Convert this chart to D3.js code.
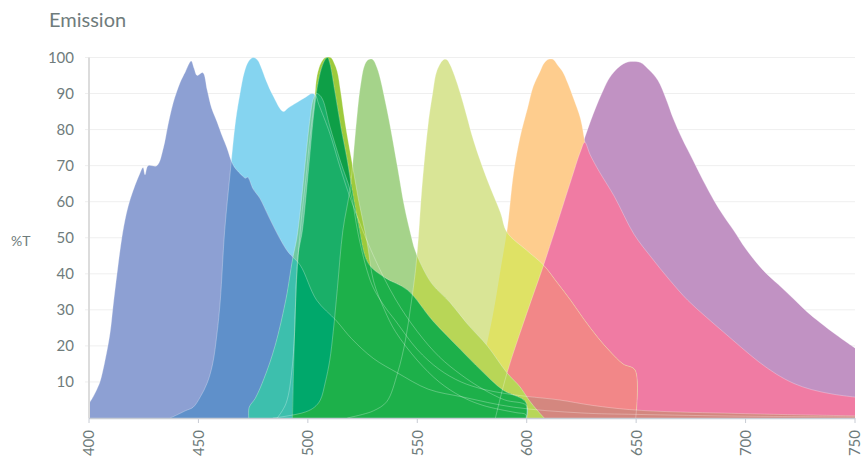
<!DOCTYPE html>
<html>
<head>
<meta charset="utf-8">
<script src="https://cdn.jsdelivr.net/npm/d3@7"></script>
<style>
  body { margin: 0; background: #fff; }
  text { font-family: Lato, "Open Sans", sans-serif; }
</style>
</head>
<body>
<svg id="chart" width="863" height="457"></svg>
<script>
// emission spectra: [wavelength nm, %T]
const violetEm = [[400,4],[402,6],[404,8.5],[405,10],[407,15],[409.6,23.5],[411,31],[413,41],[415,50],[417,56.5],[419,61],[421,64.5],[423,67.5],[424.7,69.5],[425.6,67.5],[427,70],[431,70],[434,75],[436,81],[438.5,87.5],[441.6,93],[444,96],[446.7,99],[448,97],[449.4,95],[452,95.8],[454,91],[456,86],[458.6,82],[461,78],[463,75],[466,70],[470.4,67],[471.5,66.5],[472.5,66.8],[475,63.5],[478,61],[482,56],[487,50],[491,46],[496.5,42.4],[504,32.7],[513,27],[520,22],[530,16.5],[541,12.5],[555,8],[571,5.8],[594,3],[625,1.4],[650,1],[700,0.5],[750,0.3]];
const skyEm = [[437,0],[440,0.8],[444,2],[447.6,3],[451,6],[454,9.7],[456.5,15],[458.5,23.5],[460,32.7],[462,52],[464.5,68],[467,82.5],[469,90],[471,96],[473,99],[475,100],[477,99.3],[478.5,97.5],[481,93.5],[484,89.5],[488.7,85],[491,86],[495,87.5],[499,89],[502,90],[503.5,89.5],[505,87],[510,79],[515,69],[520,60],[530,45],[540,33],[550,24],[560,17],[570,12],[580,8],[590,5],[599.8,3.5],[600,0]];
const tealEm = [[473,0],[473.2,3],[476,5.5],[480,11],[485,20],[490,33],[493,44],[495,50],[497,60],[499,72],[501,83],[502.5,88.5],[504,90],[505.5,89.5],[507,88],[510,81],[515,71],[519.4,63],[523,51],[527,41],[530,36],[535,31],[540,27],[550,19],[560,13.5],[570,10],[580,8],[590,6.8],[600,6],[615,5],[630,3.5],[650,2.2],[700,1.2],[750,0.6]];
const greenEm = [[493,0],[494,25],[495.5,45],[497.5,52],[500,67],[503,86],[505,94],[506.5,97.5],[508,99.5],[509,100],[510,98.5],[512.5,90],[515,81],[518,71.5],[520,64],[523,54],[527.5,43],[535,39],[545.5,35.5],[557,27],[569.7,19],[579,13.3],[589,7.8],[599.5,4.4],[599.8,0]];
const limeEm = [[486,0],[490,4],[493,15],[495,40],[497,55],[499,66],[501,78],[503,88],[504.2,95],[506,98.5],[508,100],[510.5,100],[512,98.5],[513.5,96],[515,90.5],[517,82],[520,71.5],[523,61],[527,49],[530,38],[535,30],[540,24],[550,16],[560,10],[570,6],[580,3.5],[595,1.5],[599.5,1],[599.8,0]];
const leafEm = [[484,0],[490,0.5],[499,1.7],[503,3],[505.7,5],[508,10],[510,16],[511.6,24],[513.5,36],[516,52],[519.4,64],[521.7,79],[524,92],[526,98],[527.6,99.4],[529.5,99.5],[531.7,97],[536,86],[541,69.5],[544,59],[547,51],[549,46.5],[553,41],[557,37],[565,32],[573,26],[582,20],[591,12.5],[597,8.6],[601,5],[605,2],[608,0]];
const paleEm = [[518,0],[525,1],[530,2],[536,4.5],[541,12.5],[544.6,21.6],[547,31],[549,40],[550.5,50],[552,63],[555,81.7],[557,90],[559,96.4],[562,99.4],[563.5,99.4],[565,98],[567,95],[569.7,90],[572.5,84],[575.7,77],[582,66],[588,57],[591,51.5],[600,46.5],[607.7,42.4],[614,37.5],[620,32.7],[626,27.5],[632.4,22.4],[638,18.5],[644,15],[649.5,13.3],[649.8,0]];
const orangeEm = [[562,0],[567,1],[572,4],[576,9],[579,13.3],[582,21],[585,30],[588,41],[591,52],[594,68],[597,78],[600.4,86],[603,92],[606,96],[608,98.5],[610,99.5],[612,99.5],[614,98],[616.5,96],[618.7,93],[621.5,88.5],[624.6,83],[627,75],[630,66],[635,52],[640,40],[650,25],[660,15],[670,9],[680,5.5],[700,2.5],[720,1.5],[750,1]];
const pinkEm = [[585.7,0],[591,12.5],[600,29],[607.7,42.4],[615,56],[620,65.5],[624.6,74],[626.5,76.5],[629,73],[633,68.5],[640,61.5],[649,51],[657,44.5],[665,38.5],[673.5,32.7],[682,28],[690,23.8],[698,19.6],[706,15.6],[714,12.2],[722,9.6],[730,7.9],[740,6.6],[750,5.8]];
const purpleEm = [[560,0.5],[570,2],[580,6],[590,14],[600,27],[610,45],[615,56],[620,66],[625.5,76],[630.5,84.5],[635,91],[638,94.5],[641.5,97],[645,98.5],[648.4,98.9],[652,98.6],[656,96.5],[660,93.6],[663.5,88.8],[667,83],[671,77.5],[676,71.5],[680.5,66],[685.5,60.4],[690,56],[694.6,52],[700,47],[708,41],[715,37],[722,33],[728,29.5],[734,26.5],[742,22.8],[750,19.4]];

const xTicks = [400, 450, 500, 550, 600, 650, 700, 750];
const yTicks = [10, 20, 30, 40, 50, 60, 70, 80, 90, 100];

const spectra = {
  violet: violetEm, sky: skyEm, teal: tealEm, green: greenEm, lime: limeEm,
  leaf: leafEm, pale: paleEm, orange: orangeEm, pink: pinkEm, purple: purpleEm
};

// fills of a single spectrum, and of the places where spectra overlap
const fills = {
  violet: "#8da0d3", sky: "#85d4f0", green: "#1db04a", lime: "#9dca3c",
  leaf: "#a5d38a", pale: "#d9e596", orange: "#fecd8e", pink: "#f07ba3", purple: "#c192c3"
};
const overlapFills = {
  "sky+violet": "#5f90ca",
  "pale+orange": "#dfe265",
  "pale+pink": "#f28788",
  "teal+pink": "#d4877f",
  "leaf+pale": "#b8d657",
  "green+lime": "#0e9f47",
  "sky+teal": "#6fc9a2",
  "violet+sky+teal": "#3dbfad",
  "green+teal": "#1aaf68",
  "violet+green+teal": "#00a86b",
  "green+leaf": "#1db04a"
};

// bottom to top; a list means "the overlap of these"
const layers = [
  "sky", "violet", ["sky", "violet"],
  "purple", "orange", "pink", "pale",
  ["pale", "orange"], ["pale", "pink"], ["teal", "pink"],
  "leaf", ["leaf", "pale"],
  "lime", "green", ["green", "lime"],
  ["sky", "teal"], ["violet", "sky", "teal"],
  ["green", "teal"], ["violet", "green", "teal"],
  ["green", "leaf"]
];
// these outlines sit under the later layers, the rest are drawn on top
const buriedOutlines = ["purple", "orange"];

const svg = d3.select("#chart");
const x = d3.scaleLinear().domain([400, 750]).range([89, 855]);
const y = d3.scaleLinear().domain([0, 100]).range([418, 57.5]);
const textColor = "#6f7c7c";

// title and axis name
svg.append("text")
  .attr("x", 49).attr("y", 27)
  .style("font-size", "20px").style("fill", textColor)
  .text("Emission");
svg.append("text")
  .attr("x", 11).attr("y", 246)
  .style("font-size", "14px").style("fill", textColor)
  .text("%T");

// grid
svg.append("g")
  .selectAll("line")
  .data(yTicks)
  .join("line")
  .attr("x1", x(400) - 4).attr("x2", x(750))
  .attr("y1", d => y(d)).attr("y2", d => y(d))
  .attr("stroke", "#efefef").attr("stroke-width", 1);

const curve = d3.curveCatmullRom.alpha(0.5);
const area = d3.area()
  .x(d => x(d[0]))
  .y0(y(0))
  .y1(d => y(d[1]))
  .curve(curve);
const line = d3.line()
  .x(d => x(d[0]))
  .y(d => y(d[1]))
  .curve(curve);

// every spectrum also becomes a clip path, to paint the overlaps
const defs = svg.append("defs");
Object.keys(spectra).forEach(k => {
  defs.append("clipPath").attr("id", "clip-" + k)
    .append("path").attr("d", area(spectra[k]));
});

const plot = svg.append("g");
function outline(k) {
  plot.append("path")
    .attr("d", line(spectra[k]))
    .attr("fill", "none")
    .attr("stroke", "#fff")
    .attr("stroke-opacity", 0.35)
    .attr("stroke-width", 0.8);
}

layers.forEach(layer => {
  if (typeof layer === "string") {
    plot.append("path")
      .attr("d", area(spectra[layer]))
      .attr("fill", fills[layer]);
    if (buriedOutlines.includes(layer)) outline(layer);
  } else {
    let g = plot;
    layer.slice(0, -1).forEach(k => {
      g = g.append("g").attr("clip-path", "url(#clip-" + k + ")");
    });
    const last = layer[layer.length - 1];
    g.append("path")
      .attr("d", area(spectra[last]))
      .attr("fill", overlapFills[layer.join("+")]);
  }
});

Object.keys(spectra)
  .filter(k => !buriedOutlines.includes(k))
  .forEach(outline);

// axes
svg.append("line")
  .attr("x1", x(400)).attr("x2", x(400))
  .attr("y1", y(100)).attr("y2", y(0))
  .attr("stroke", "#dcdcdc").attr("stroke-width", 2);
svg.append("line")
  .attr("x1", x(400)).attr("x2", x(750))
  .attr("y1", y(0) + 0.5).attr("y2", y(0) + 0.5)
  .attr("stroke", "#c8ccd4").attr("stroke-width", 1.5);

svg.append("g")
  .selectAll("text")
  .data(yTicks)
  .join("text")
  .attr("x", 74).attr("y", d => y(d))
  .attr("dy", "0.36em")
  .attr("text-anchor", "end")
  .style("font-size", "15px").style("fill", textColor)
  .text(d => d);

const xg = svg.append("g");
xg.selectAll("line")
  .data(xTicks)
  .join("line")
  .attr("x1", d => x(d)).attr("x2", d => x(d))
  .attr("y1", y(0)).attr("y2", y(0) + 5)
  .attr("stroke", "#c8ccd4");
xg.selectAll("text")
  .data(xTicks)
  .join("text")
  .attr("transform", d => "translate(" + x(d) + "," + (y(0) + 12) + ") rotate(-90)")
  .attr("dy", "0.36em")
  .attr("text-anchor", "end")
  .style("font-size", "15px").style("fill", textColor)
  .text(d => d);
</script>
</body>
</html>
